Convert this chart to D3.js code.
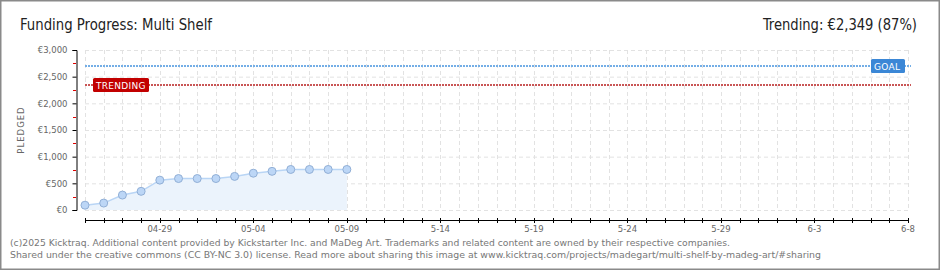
<!DOCTYPE html>
<html>
<head>
<meta charset="utf-8">
<script src="https://cdn.jsdelivr.net/npm/d3@7"></script>
<style>
  body { margin: 0; background: #fff; }
  svg { display: block; }
</style>
</head>
<body>
<svg id="chart" width="940" height="270"></svg>
<script>
// pledged totals per day
const pledgeDates = ['04-25', '04-26', '04-27', '04-28', '04-29', '04-30', '05-01', '05-02',
  '05-03', '05-04', '05-05', '05-06', '05-07', '05-08', '05-09']
const pledged = [90, 130, 280, 350, 560, 590, 590, 590, 630, 690, 725, 760, 760, 760, 760]
const tickLabels = ['04-29', '05-04', '05-09', '5-14', '5-19', '5-24', '5-29', '6-3', '6-8']
const yTicks = [0, 500, 1000, 1500, 2000, 2500, 3000]
const goal = 2700
const trending = 2349
const firstDay = '04-25'
const lastDay = '06-08'

const parse = d3.timeParse('%m-%d')
const data = pledgeDates.map((d, i) => ({ date: parse(d), value: pledged[i] }))

const svg = d3.select('#chart')

const xScale = d3.scaleTime().domain([parse(firstDay), parse(lastDay)]).range([85, 908])
const yScale = d3.scaleLinear().domain([0, 3000]).range([210, 50])
const allDays = d3.timeDay.range(parse(firstDay), d3.timeDay.offset(parse(lastDay), 1))

// outer frame
svg.append('rect')
  .attr('x', 0.75).attr('y', 0.75).attr('width', 938.5).attr('height', 268.5)
  .attr('fill', '#fff').attr('stroke', '#8a8a8a').attr('stroke-width', 1.5)

// titles
svg.append('text')
  .attr('x', 20).attr('y', 30)
  .attr('font-family', 'DejaVu Sans Condensed, Liberation Sans Narrow, Roboto')
  .attr('font-size', 16).attr('fill', '#222')
  .attr('textLength', 192).attr('lengthAdjust', 'spacingAndGlyphs')
  .text('Funding Progress: Multi Shelf')

svg.append('text')
  .attr('x', 917).attr('y', 30)
  .attr('text-anchor', 'end')
  .attr('font-family', 'DejaVu Sans Condensed, Liberation Sans Narrow, Roboto')
  .attr('font-size', 16).attr('fill', '#222')
  .attr('textLength', 154).attr('lengthAdjust', 'spacingAndGlyphs')
  .text('Trending: €' + d3.format(',')(trending) + ' (87%)')

// grid
const grid = svg.append('g').attr('stroke', '#e2e2e2').attr('stroke-dasharray', '4,3')
grid.selectAll('.hgrid').data(yTicks).enter().append('line')
  .attr('x1', 85).attr('x2', 911)
  .attr('y1', (d) => yScale(d) + 0.5).attr('y2', (d) => yScale(d) + 0.5)
grid.selectAll('.vgrid').data(allDays).enter().append('line')
  .attr('x1', (d) => Math.round(xScale(d)) + 0.5).attr('x2', (d) => Math.round(xScale(d)) + 0.5)
  .attr('y1', 50).attr('y2', 210)

// area + line + points
const area = d3.area()
  .x((d) => xScale(d.date))
  .y0(yScale(0))
  .y1((d) => yScale(d.value))
const line = d3.line()
  .x((d) => xScale(d.date))
  .y((d) => yScale(d.value))

svg.append('path').datum(data).attr('d', area).attr('fill', '#ebf3fc')
svg.append('path').datum(data).attr('d', line)
  .attr('fill', 'none').attr('stroke', '#b9d5f5').attr('stroke-width', 1.5)

// goal and trending lines
const refLines = [
  { value: goal, color: '#74aee6', label: 'GOAL', box: '#3b87d6', x: 871, w: 34 },
  { value: trending, color: '#c95656', label: 'TRENDING', box: '#c20000', x: 93, w: 56 },
]
refLines.forEach((r) => {
  const y = Math.round(yScale(r.value))
  svg.append('line')
    .attr('x1', 85).attr('x2', 911).attr('y1', y).attr('y2', y)
    .attr('stroke', r.color).attr('stroke-width', 2).attr('stroke-dasharray', '2,1')
  svg.append('rect')
    .attr('x', r.x).attr('y', y - 7).attr('width', r.w).attr('height', 14)
    .attr('rx', 1.5).attr('fill', r.box)
  svg.append('text')
    .attr('x', r.x + 3).attr('y', y + 3.5)
    .attr('font-family', 'DejaVu Sans, sans-serif').attr('font-size', 9)
    .attr('fill', '#fff').attr('letter-spacing', 0.3)
    .text(r.label)
})

svg.selectAll('.pt').data(data).enter().append('circle')
  .attr('cx', (d) => xScale(d.date))
  .attr('cy', (d) => yScale(d.value))
  .attr('r', 4)
  .attr('fill', '#bcd6f6').attr('stroke', '#91afd6').attr('stroke-width', 1)

// y axis
const yAxis = svg.append('g')
  .attr('transform', 'translate(76.5,0)')
  .call(d3.axisLeft(yScale).tickValues(yTicks).tickSize(4).tickPadding(5)
    .tickFormat((d) => '€' + d3.format(',')(d)))
yAxis.select('.domain').attr('stroke', '#000')
yAxis.selectAll('line').attr('stroke', '#000')
yAxis.selectAll('text')
  .attr('font-family', 'DejaVu Sans, sans-serif').attr('font-size', 8.5).attr('fill', '#666')

svg.append('g').selectAll('line')
  .data(d3.range(250, 3000, 500)).enter().append('line')
  .attr('x1', 73).attr('x2', 76)
  .attr('y1', (d) => Math.round(yScale(d)) + 0.5).attr('y2', (d) => Math.round(yScale(d)) + 0.5)
  .attr('stroke', '#e00000')

svg.append('text')
  .attr('transform', 'translate(24,130) rotate(-90)')
  .attr('text-anchor', 'middle')
  .attr('font-family', 'DejaVu Sans, sans-serif').attr('font-size', 8.5)
  .attr('letter-spacing', 1).attr('fill', '#666')
  .text('PLEDGED')

// x axis
const xAxis = svg.append('g').attr('transform', 'translate(0,220.5)')
xAxis.append('line').attr('x1', 85).attr('x2', 909).attr('stroke', '#000')
xAxis.selectAll('.tick').data(allDays).enter().append('line')
  .attr('x1', (d) => Math.round(xScale(d)) + 0.5).attr('x2', (d) => Math.round(xScale(d)) + 0.5)
  .attr('y1', -2.5).attr('y2', 2.5).attr('stroke', '#000')
xAxis.selectAll('text').data(tickLabels).enter().append('text')
  .attr('x', (d) => xScale(parse(d)))
  .attr('y', 11)
  .attr('text-anchor', 'middle')
  .attr('font-family', 'DejaVu Sans, sans-serif').attr('font-size', 8.5).attr('fill', '#666')
  .text((d) => d)

// footer
const footer = [
  '(c)2025 Kicktraq. Additional content provided by Kickstarter Inc. and MaDeg Art. Trademarks and related content are owned by their respective companies.',
  'Shared under the creative commons (CC BY-NC 3.0) license. Read more about sharing this image at www.kicktraq.com/projects/madegart/multi-shelf-by-madeg-art/#sharing',
]
const footerWidths = [720, 811]
svg.selectAll('.foot').data(footer).enter().append('text')
  .attr('x', 10).attr('y', (d, i) => 246 + i * 12)
  .attr('font-family', 'DejaVu Sans, sans-serif').attr('font-size', 8.6).attr('fill', '#777')
  .attr('textLength', (d, i) => footerWidths[i]).attr('lengthAdjust', 'spacingAndGlyphs')
  .text((d) => d)
</script>
</body>
</html>
